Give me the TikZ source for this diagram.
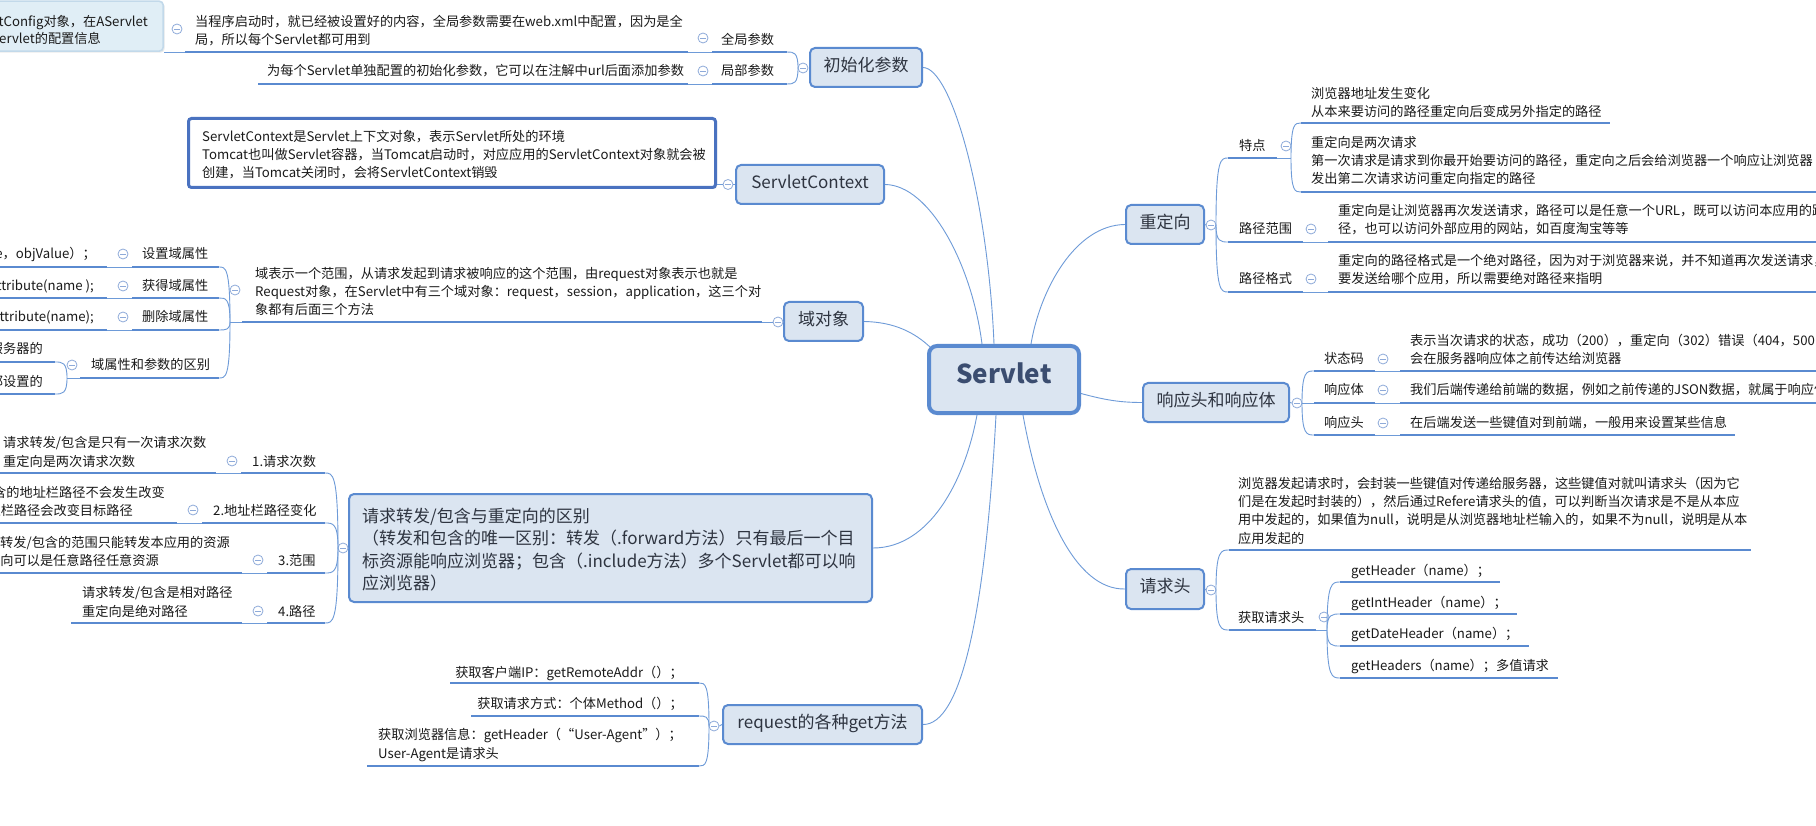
\documentclass[tikz,border=0pt]{standalone}
\usepackage{fontspec}
\setmainfont{Noto Sans CJK SC}
\usetikzlibrary{calc,shadows}
\definecolor{tfill}{HTML}{DBE5F1}
\definecolor{tbord}{HTML}{5A8AD0}
\definecolor{ulc}{HTML}{5A8AD0}
\definecolor{lkc}{HTML}{6E9BD8}
\definecolor{colc}{HTML}{8EAAD9}
\definecolor{txtc}{HTML}{1A1A1A}
\definecolor{ttxt}{HTML}{2E3440}
\definecolor{stxt}{HTML}{3B4D70}
\definecolor{cfill}{HTML}{E0EEF6}
\definecolor{cbord}{HTML}{C2D9EA}
\definecolor{sbord}{HTML}{4A72C0}
\pgfdeclarelayer{bg}
\pgfsetlayers{bg,main}
\tikzset{
 topic/.style={draw=tbord, fill=tfill, line width=2pt, rounded corners=5pt, inner sep=0pt,
   font=\fontsize{17}{22}\selectfont, text=ttxt, text height=0.88em, text depth=0.12em},
 tx/.style={inner sep=0pt, font=\fontsize{13.2}{18.3}\selectfont, text=txtc, align=left},
 uline/.style={draw=ulc, line width=2.6pt},
 lnk/.style={draw=lkc, line width=0.9pt},
 colb/.style={circle, draw=colc, fill=white, line width=0.8pt, minimum size=10pt, inner sep=0pt,
   path picture={\draw[colc, line width=0.8pt] ([xshift=-2.6pt]path picture bounding box.center) -- ([xshift=2.6pt]path picture bounding box.center);}},
}
\newcommand\mybrk[2]{\draw[lnk] (#1) .. controls (#1 |- #2) and ($(#2)!0.6!(#1 |- #2)$) .. (#2);}
\begin{document}
\begin{tikzpicture}[x=1pt,y=-1pt]
\useasboundingbox (0,0) rectangle (1816,826);
\begin{pgfonlayer}{bg}
\fill[white] (0,0) rectangle (1816,826);
\end{pgfonlayer}

% ---------- main topics ----------
\node[topic, line width=4pt, rounded corners=8pt, minimum width=150pt, minimum height=67pt,
  font=\fontsize{26}{30}\selectfont\bfseries, text=stxt] (servlet) at (1004,379.5) {Servlet};
\node[topic, minimum width=112pt, minimum height=39pt] (init) at (866,67.5) {初始化参数};
\node[topic, minimum width=148pt, minimum height=39pt] (sctx) at (810,184.5) {ServletContext};
\node[topic, minimum width=79pt, minimum height=39pt] (domain) at (823.5,321.5) {域对象};
\node[topic, minimum width=523pt, minimum height=108pt] (fwd) at (610.5,548) {};
\node[anchor=base west, inner sep=0pt, font=\fontsize{17}{22.4}\selectfont, text=ttxt, align=left] (fwdt) at (362,589.5)
  {请求转发/包含与重定向的区别\\（转发和包含的唯一区别：转发（.forward方法）只有最后一个目\\标资源能响应浏览器；包含（.include方法）多个Servlet都可以响\\应浏览器）};
\node[topic, minimum width=199pt, minimum height=39pt] (reqget) at (822.5,724.5) {request的各种get方法};
\node[topic, minimum width=78pt, minimum height=39pt] (redirect) at (1165,224.5) {重定向};
\node[topic, minimum width=146pt, minimum height=39pt] (resp) at (1216,402.5) {响应头和响应体};
\node[topic, minimum width=78pt, minimum height=40pt] (reqhead) at (1165,589) {请求头};

\begin{pgfonlayer}{bg}
\draw[lnk] (init.east) .. controls (952,68) and (988,200) .. ($(servlet.north)+(-10,0)$);
\draw[lnk] (sctx.east) .. controls (930,185) and (972,265) .. ($(servlet.north)+(-22,0)$);
\draw[lnk] (domain.east) .. controls (895,322) and (915,333) .. ($(servlet.north west)+(3,3)$);
\draw[lnk] (redirect.west) .. controls (1075,225) and (1040,290) .. ($(servlet.north)+(27,0)$);
\draw[lnk] ($(servlet.east)+(0,14)$) .. controls (1105,400) and (1120,402.5) .. (resp.west);
\draw[lnk] ($(servlet.south)+(-27,0)$) .. controls (965,480) and (930,548) .. (fwd.east);
\draw[lnk] ($(servlet.south)+(-8,0)$) .. controls (985,620) and (960,725) .. (reqget.east);
\draw[lnk] ($(servlet.south)+(19,0)$) .. controls (1040,510) and (1075,590) .. (reqhead.west);
\end{pgfonlayer}

% ---------- 初始化参数 ----------
\node[colb] (ci) at (803,68) {};
\coordinate (ji) at (798,68);
\coordinate (ei1) at (787,52);
\coordinate (ei2) at (787,84);
\mybrk{ji}{ei1}
\mybrk{ji}{ei2}
\draw[uline] (712,52) -- (ei1);
\draw[uline] (712,84) -- (ei2);
\node[tx, anchor=base west] (g1) at (721,45) {全局参数};
\node[colb] (cg1) at (703,38) {};
\node[tx, anchor=base west] (g2) at (721,76) {局部参数};
\node[colb] (cg2) at (703,71) {};
\draw[lnk] (688,52) -- (712,52);
\draw[lnk] (688,84) -- (712,84);
\node[tx, anchor=base west] (g1c) at (195,44.5) {当程序启动时，就已经被设置好的内容，全局参数需要在web.xml中配置，因为是全\\局，所以每个Servlet都可用到};
\draw[uline] (185,52) -- (688,52);
\node[colb] (cg1c) at (177,29) {};
\node[draw=cbord, fill=cfill, line width=1.6pt, rounded corners=4pt, minimum width=190pt, minimum height=50pt,
  inner sep=0pt, anchor=south east, drop shadow={opacity=0.15, shadow xshift=1.5pt, shadow yshift=-1.5pt}] (cfg) at (164,52) {};
\node[tx, anchor=base east] (cfg1) at (148,27) {tConfig对象，在AServlet};
\node[tx, anchor=base east] (cfg2) at (101,44) {Servlet的配置信息};
\draw[lnk] (cfg.south east) -- (185,52);
\node[tx, anchor=base west] (g2c) at (267,76) {为每个Servlet单独配置的初始化参数，它可以在注解中url后面添加参数};
\draw[uline] (258,84) -- (688,84);

% ---------- ServletContext ----------
\node[colb] (cs) at (728,184.5) {};
\draw[lnk] (cs.east) -- (sctx.west);
\node[draw=sbord, line width=3pt, rounded corners=3pt, fill=white, minimum width=527pt, minimum height=69pt, inner sep=0pt,
  drop shadow={opacity=0.2, shadow xshift=1.5pt, shadow yshift=-1.5pt}] (sctxc) at (452,153) {};
\draw[lnk] (sctxc.east |- cs.west) -- (cs.west);
\node[tx, anchor=base west] (sctxt) at (202,178) {ServletContext是Servlet上下文对象，表示Servlet所处的环境\\Tomcat也叫做Servlet容器，当Tomcat启动时，对应应用的ServletContext对象就会被\\创建，当Tomcat关闭时，会将ServletContext销毁};

% ---------- 域对象 ----------
\node[colb] (cd) at (778,322) {};
\draw[lnk] (cd.east) -- (domain.west);
\draw[lnk] (762,322) -- (cd.west);
\node[tx, anchor=base west] (dc) at (255,315) {域表示一个范围，从请求发起到请求被响应的这个范围，由request对象表示也就是\\Request对象，在Servlet中有三个域对象：request，session，application，这三个对\\象都有后面三个方法};
\draw[uline] (242,322) -- (762,322);
\node[colb] (cdc) at (235,290) {};
\coordinate (jd) at (230,322);
\draw[lnk] (242,322) -- (jd);
\coordinate (ed1) at (219,267);
\coordinate (ed2) at (219,298);
\coordinate (ed3) at (219,330);
\coordinate (ed4) at (219,378);
\mybrk{jd}{ed1}
\mybrk{jd}{ed2}
\mybrk{jd}{ed3}
\mybrk{jd}{ed4}
\node[tx, anchor=base west] (d1) at (142,259) {设置域属性};
\node[colb] (cd1) at (123,254) {};
\draw[uline] (132,267) -- (ed1);
\draw[lnk] (107,267) -- (132,267);
\node[tx, anchor=base east] (d1c) at (96,259) {e，objValue）；};
\draw[uline] (-5,267) -- (107,267);
\node[tx, anchor=base west] (d2) at (142,291) {获得域属性};
\node[colb] (cd2) at (123,286) {};
\draw[uline] (132,298) -- (ed2);
\draw[lnk] (107,298) -- (132,298);
\node[tx, anchor=base east] (d2c) at (94,291) {ttribute(name );};
\draw[uline] (-5,298) -- (107,298);
\node[tx, anchor=base west] (d3) at (142,322) {删除域属性};
\node[colb] (cd3) at (123,317) {};
\draw[uline] (132,330) -- (ed3);
\draw[lnk] (107,330) -- (132,330);
\node[tx, anchor=base east] (d3c) at (94,322) {Attribute(name);};
\draw[uline] (-5,330) -- (107,330);
\node[tx, anchor=base west] (d4) at (91,370) {域属性和参数的区别};
\node[colb] (cd4) at (72,365) {};
\draw[uline] (80,378) -- (ed4);
\coordinate (jd4) at (67,378);
\draw[lnk] (80,378) -- (jd4);
\coordinate (e41) at (55,362);
\coordinate (e42) at (55,394);
\mybrk{jd4}{e41}
\mybrk{jd4}{e42}
\node[tx, anchor=base east] (d41) at (43,354) {服务器的};
\draw[uline] (-5,362) -- (e41);
\node[tx, anchor=base east] (d42) at (43,386) {都设置的};
\draw[uline] (-5,394) -- (e42);

% ---------- 请求转发 ----------
\node[colb] (cf) at (343,548) {};
\draw[lnk] (cf.east) -- (fwd.west);
\coordinate (jf) at (338,548);
\coordinate (ef1) at (325,473);
\coordinate (ef2) at (325,523);
\coordinate (ef3) at (325,573);
\coordinate (ef4) at (325,623);
\mybrk{jf}{ef1}
\mybrk{jf}{ef2}
\mybrk{jf}{ef3}
\mybrk{jf}{ef4}
\node[tx, anchor=base west] (f1) at (252,466) {1.请求次数};
\node[colb] (cf1) at (232,461) {};
\draw[uline] (241,473) -- (ef1);
\draw[lnk] (216,473) -- (241,473);
\node[tx, anchor=base west] (f1c) at (3,466) {请求转发/包含是只有一次请求次数\\重定向是两次请求次数};
\draw[uline] (-5,473) -- (216,473);
\node[tx, anchor=base west] (f2) at (213,515) {2.地址栏路径变化};
\node[colb] (cf2) at (193,510) {};
\draw[uline] (202,523) -- (ef2);
\draw[lnk] (177,523) -- (202,523);
\node[tx, anchor=base east] (f2a) at (165,497) {含的地址栏路径不会发生改变};
\node[tx, anchor=base east] (f2b) at (133,515) {址栏路径会改变目标路径};
\draw[uline] (-5,523) -- (177,523);
\node[tx, anchor=base west] (f3) at (278,565) {3.范围};
\node[colb] (cf3) at (258,560) {};
\draw[uline] (267,573) -- (ef3);
\draw[lnk] (242,573) -- (267,573);
\node[tx, anchor=base east] (f3a) at (230,547) {求转发/包含的范围只能转发本应用的资源};
\node[tx, anchor=base east] (f3b) at (159,565) {定向可以是任意路径任意资源};
\draw[uline] (-5,573) -- (242,573);
\node[tx, anchor=base west] (f4) at (278,616) {4.路径};
\node[colb] (cf4) at (258,611) {};
\draw[uline] (267,623) -- (ef4);
\draw[lnk] (242,623) -- (267,623);
\node[tx, anchor=base west] (f4c) at (82,616) {请求转发/包含是相对路径\\重定向是绝对路径};
\draw[uline] (71,623) -- (242,623);

% ---------- request的各种get方法 ----------
\node[colb] (cr) at (714,726) {};
\draw[lnk] (cr.east) -- (reqget.west);
\coordinate (jr) at (709,726);
\coordinate (er1) at (699,683);
\coordinate (er2) at (699,716);
\coordinate (er3) at (699,766);
\mybrk{jr}{er1}
\mybrk{jr}{er2}
\mybrk{jr}{er3}
\node[tx, anchor=base east] (r1) at (683,677) {获取客户端IP：getRemoteAddr（）；};
\draw[uline] (450,683) -- (er1);
\node[tx, anchor=base east] (r2) at (683,708) {获取请求方式：个体Method（）；};
\draw[uline] (471,716) -- (er2);
\node[tx, anchor=base west] (r3) at (378,758) {获取浏览器信息：getHeader（“User-Agent”）；\\User-Agent是请求头};
\draw[uline] (367,766) -- (er3);

% ---------- 重定向 ----------
\node[colb] (cre) at (1211,225) {};
\draw[lnk] (redirect.east) -- (cre.west);
\coordinate (jre) at (1216,225);
\coordinate (es1) at (1228,158);
\coordinate (es2) at (1228,242);
\coordinate (es3) at (1228,292);
\mybrk{jre}{es1}
\mybrk{jre}{es2}
\mybrk{jre}{es3}
\node[tx, anchor=base west] (s1) at (1239,151) {特点};
\draw[uline] (es1) -- (1277,158);
\node[colb] (cs1) at (1286,146) {};
\coordinate (js1) at (1291,158);
\draw[lnk] (1277,158) -- (js1);
\coordinate (es1a) at (1301,123);
\coordinate (es1b) at (1301,192);
\mybrk{js1}{es1a}
\mybrk{js1}{es1b}
\node[tx, anchor=base west] (s1a) at (1311,117) {浏览器地址发生变化\\从本来要访问的路径重定向后变成另外指定的路径};
\draw[uline] (es1a) -- (1610,123);
\node[tx, anchor=base west] (s1b) at (1311,184) {重定向是两次请求\\第一次请求是请求到你最开始要访问的路径，重定向之后会给浏览器一个响应让浏览器\\发出第二次请求访问重定向指定的路径};
\draw[uline] (es1b) -- (1830,192);
\node[tx, anchor=base west] (s2) at (1239,234) {路径范围};
\draw[uline] (es2) -- (1303,242);
\node[colb] (cs2) at (1311,229) {};
\draw[lnk] (1303,242) -- (1328,242);
\node[tx, anchor=base west] (s2a) at (1338,234) {重定向是让浏览器再次发送请求，路径可以是任意一个URL，既可以访问本应用的路\\径，也可以访问外部应用的网站，如百度淘宝等等};
\draw[uline] (1328,242) -- (1830,242);
\node[tx, anchor=base west] (s3) at (1239,284) {路径格式};
\draw[uline] (es3) -- (1303,292);
\node[colb] (cs3) at (1311,279) {};
\draw[lnk] (1303,292) -- (1328,292);
\node[tx, anchor=base west] (s3a) at (1338,284) {重定向的路径格式是一个绝对路径，因为对于浏览器来说，并不知道再次发送请求，\\要发送给哪个应用，所以需要绝对路径来指明};
\draw[uline] (1328,292) -- (1830,292);

% ---------- 响应头和响应体 ----------
\node[colb] (cp) at (1297,403) {};
\draw[lnk] (resp.east) -- (cp.west);
\coordinate (jp) at (1302,403);
\coordinate (ep1) at (1314,371);
\coordinate (ep2) at (1314,403);
\coordinate (ep3) at (1314,435);
\mybrk{jp}{ep1}
\draw[lnk] (jp) -- (ep2);
\mybrk{jp}{ep3}
\node[tx, anchor=base west] (p1) at (1324,364) {状态码};
\node[colb] (cp1) at (1383,359) {};
\draw[uline] (ep1) -- (1375,371);
\draw[lnk] (1375,371) -- (1400,371);
\node[tx, anchor=base west] (p1a) at (1410,364) {表示当次请求的状态，成功（200），重定向（302）错误（404，500\\会在服务器响应体之前传达给浏览器};
\draw[uline] (1400,371) -- (1830,371);
\node[tx, anchor=base west] (p2) at (1324,395) {响应体};
\node[colb] (cp2) at (1383,390) {};
\draw[uline] (ep2) -- (1375,403);
\draw[lnk] (1375,403) -- (1400,403);
\node[tx, anchor=base west] (p2a) at (1410,395) {我们后端传递给前端的数据，例如之前传递的JSON数据，就属于响应体};
\draw[uline] (1400,403) -- (1830,403);
\node[tx, anchor=base west] (p3) at (1324,428) {响应头};
\node[colb] (cp3) at (1383,423) {};
\draw[uline] (ep3) -- (1375,435);
\draw[lnk] (1375,435) -- (1400,435);
\node[tx, anchor=base west] (p3a) at (1410,428) {在后端发送一些键值对到前端，一般用来设置某些信息};
\draw[uline] (1400,435) -- (1735,435);

% ---------- 请求头 ----------
\node[colb] (ch) at (1211,590) {};
\draw[lnk] (reqhead.east) -- (ch.west);
\coordinate (jh) at (1216,590);
\coordinate (eh1) at (1229,550);
\coordinate (eh2) at (1229,630);
\mybrk{jh}{eh1}
\mybrk{jh}{eh2}
\node[tx, anchor=base west] (h1) at (1238,543) {浏览器发起请求时，会封装一些键值对传递给服务器，这些键值对就叫请求头（因为它\\们是在发起时封装的），然后通过Refere请求头的值，可以判断当次请求是不是从本应\\用中发起的，如果值为null，说明是从浏览器地址栏输入的，如果不为null，说明是从本\\应用发起的};
\draw[uline] (eh1) -- (1751,550);
\node[tx, anchor=base west] (h2) at (1238,622) {获取请求头};
\node[colb] (ch2) at (1324,617) {};
\draw[uline] (eh2) -- (1316,630);
\coordinate (jh2) at (1327,630);
\draw[lnk] (1316,630) -- (jh2);
\coordinate (eh2a) at (1340,582);
\coordinate (eh2b) at (1340,614);
\coordinate (eh2c) at (1340,646);
\coordinate (eh2d) at (1340,678);
\mybrk{jh2}{eh2a}
\mybrk{jh2}{eh2b}
\mybrk{jh2}{eh2c}
\mybrk{jh2}{eh2d}
\node[tx, anchor=base west] (h2a) at (1351,575) {getHeader（name）；};
\draw[uline] (eh2a) -- (1500,582);
\node[tx, anchor=base west] (h2b) at (1351,607) {getIntHeader（name）；};
\draw[uline] (eh2b) -- (1517,614);
\node[tx, anchor=base west] (h2c) at (1351,638) {getDateHeader（name）；};
\draw[uline] (eh2c) -- (1529,646);
\node[tx, anchor=base west] (h2d) at (1351,670) {getHeaders（name）；多值请求};
\draw[uline] (eh2d) -- (1558,678);
\end{tikzpicture}
\end{document}
